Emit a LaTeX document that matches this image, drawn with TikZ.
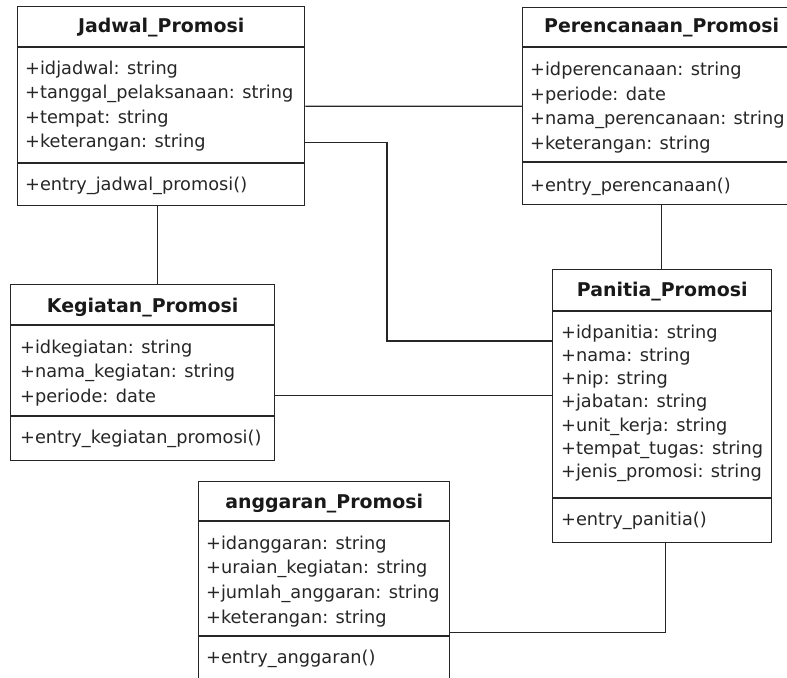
\documentclass[tikz,border=0pt]{standalone}
\usepackage{fontspec}
\setmainfont{DejaVu Sans}
\begin{document}
\begin{tikzpicture}[x=1bp,y=-1bp,
  line/.style={draw=black!85, line width=1.4bp},
  classframe/.style={line, fill=white, anchor=north west, inner sep=0pt},
  title/.style={anchor=base, inner sep=0pt, text=black!90,
    font=\fontsize{19}{22}\selectfont\bfseries},
  member/.style={anchor=north west, inner sep=0pt, align=left, text=black!85,
    font=\fontsize{17.8}{24.7}\selectfont},
  tight/.style={font=\fontsize{17.8}{23.3}\selectfont},
  link/.style={line}]
\useasboundingbox (0,0) rectangle (787,678);
\fill[white] (0,0) rectangle (787,678);
\begin{scope}
\clip (0,0) rectangle (787,678);

% Jadwal_Promosi
\node[classframe, minimum width=287bp, minimum height=199bp] (J) at (17,6) {};
\draw[line] ([yshift=-41bp]J.north west) -- ([yshift=-41bp]J.north east);
\draw[line] ([yshift=-157bp]J.north west) -- ([yshift=-157bp]J.north east);
\node[title] (Jt) at ([yshift=-27bp]J.north) {Jadwal\_Promosi};
\node[member] (Ja) at (25,60.5) {+idjadwal: string\\+tanggal\_pelaksanaan: string\\+tempat: string\\+keterangan: string};
\node[member] (Jm) at (25,176.5) {+entry\_jadwal\_promosi()};

% Perencanaan_Promosi
\node[classframe, minimum width=278bp, minimum height=197bp] (P) at (522,7) {};
\draw[line] ([yshift=-40bp]P.north west) -- ([yshift=-40bp]P.north east);
\draw[line] ([yshift=-155bp]P.north west) -- ([yshift=-155bp]P.north east);
\node[title] (Pt) at ([yshift=-26bp]P.north) {Perencanaan\_Promosi};
\node[member] (Pa) at (530,62) {+idperencanaan: string\\+periode: date\\+nama\_perencanaan: string\\+keterangan: string};
\node[member] (Pm) at (530,178) {+entry\_perencanaan()};

% Kegiatan_Promosi
\node[classframe, minimum width=264bp, minimum height=176bp] (K) at (10,284) {};
\draw[line] ([yshift=-41bp]K.north west) -- ([yshift=-41bp]K.north east);
\draw[line] ([yshift=-132bp]K.north west) -- ([yshift=-132bp]K.north east);
\node[title] (Kt) at ([yshift=-28bp]K.north) {Kegiatan\_Promosi};
\node[member] (Ka) at (20,339.5) {+idkegiatan: string\\+nama\_kegiatan: string\\+periode: date};
\node[member] (Km) at (20,429.5) {+entry\_kegiatan\_promosi()};

% Panitia_Promosi
\node[classframe, minimum width=219bp, minimum height=273bp] (N) at (552,269) {};
\draw[line] ([yshift=-42bp]N.north west) -- ([yshift=-42bp]N.north east);
\draw[line] ([yshift=-229bp]N.north west) -- ([yshift=-229bp]N.north east);
\node[title] (Nt) at ([yshift=-27bp]N.north) {Panitia\_Promosi};
\node[member, tight] (Na) at (561,324.5) {+idpanitia: string\\+nama: string\\+nip: string\\+jabatan: string\\+unit\_kerja: string\\+tempat\_tugas: string\\+jenis\_promosi: string};
\node[member] (Nm) at (561,511.5) {+entry\_panitia()};

% anggaran_Promosi
\node[classframe, minimum width=251bp, minimum height=219bp] (A) at (198,481) {};
\draw[line] ([yshift=-40bp]A.north west) -- ([yshift=-40bp]A.north east);
\draw[line] ([yshift=-155bp]A.north west) -- ([yshift=-155bp]A.north east);
\node[title] (At) at ([yshift=-27bp]A.north) {anggaran\_Promosi};
\node[member] (Aa) at (206,535.5) {+idanggaran: string\\+uraian\_kegiatan: string\\+jumlah\_anggaran: string\\+keterangan: string};
\node[member] (Am) at (206,649.5) {+entry\_anggaran()};

% associations
\coordinate (bendJN) at (387,341);
\draw[link] (J.east) -- (P.west);
\draw[link] ([yshift=-36bp]J.east) -| (bendJN) -- (bendJN -| N.west);
\draw[link] ([xshift=-3.5bp]J.south) -- ([xshift=-3.5bp]J.south |- K.north);
\draw[link] (P.south) -- (P.south |- N.north);
\draw[link] ([yshift=-23bp]K.east) -- ([yshift=-23bp]K.east -| N.west);
\draw[link] ([xshift=3.5bp]N.south) |- ([yshift=-41bp]A.east);
\end{scope}
\end{tikzpicture}
\end{document}
